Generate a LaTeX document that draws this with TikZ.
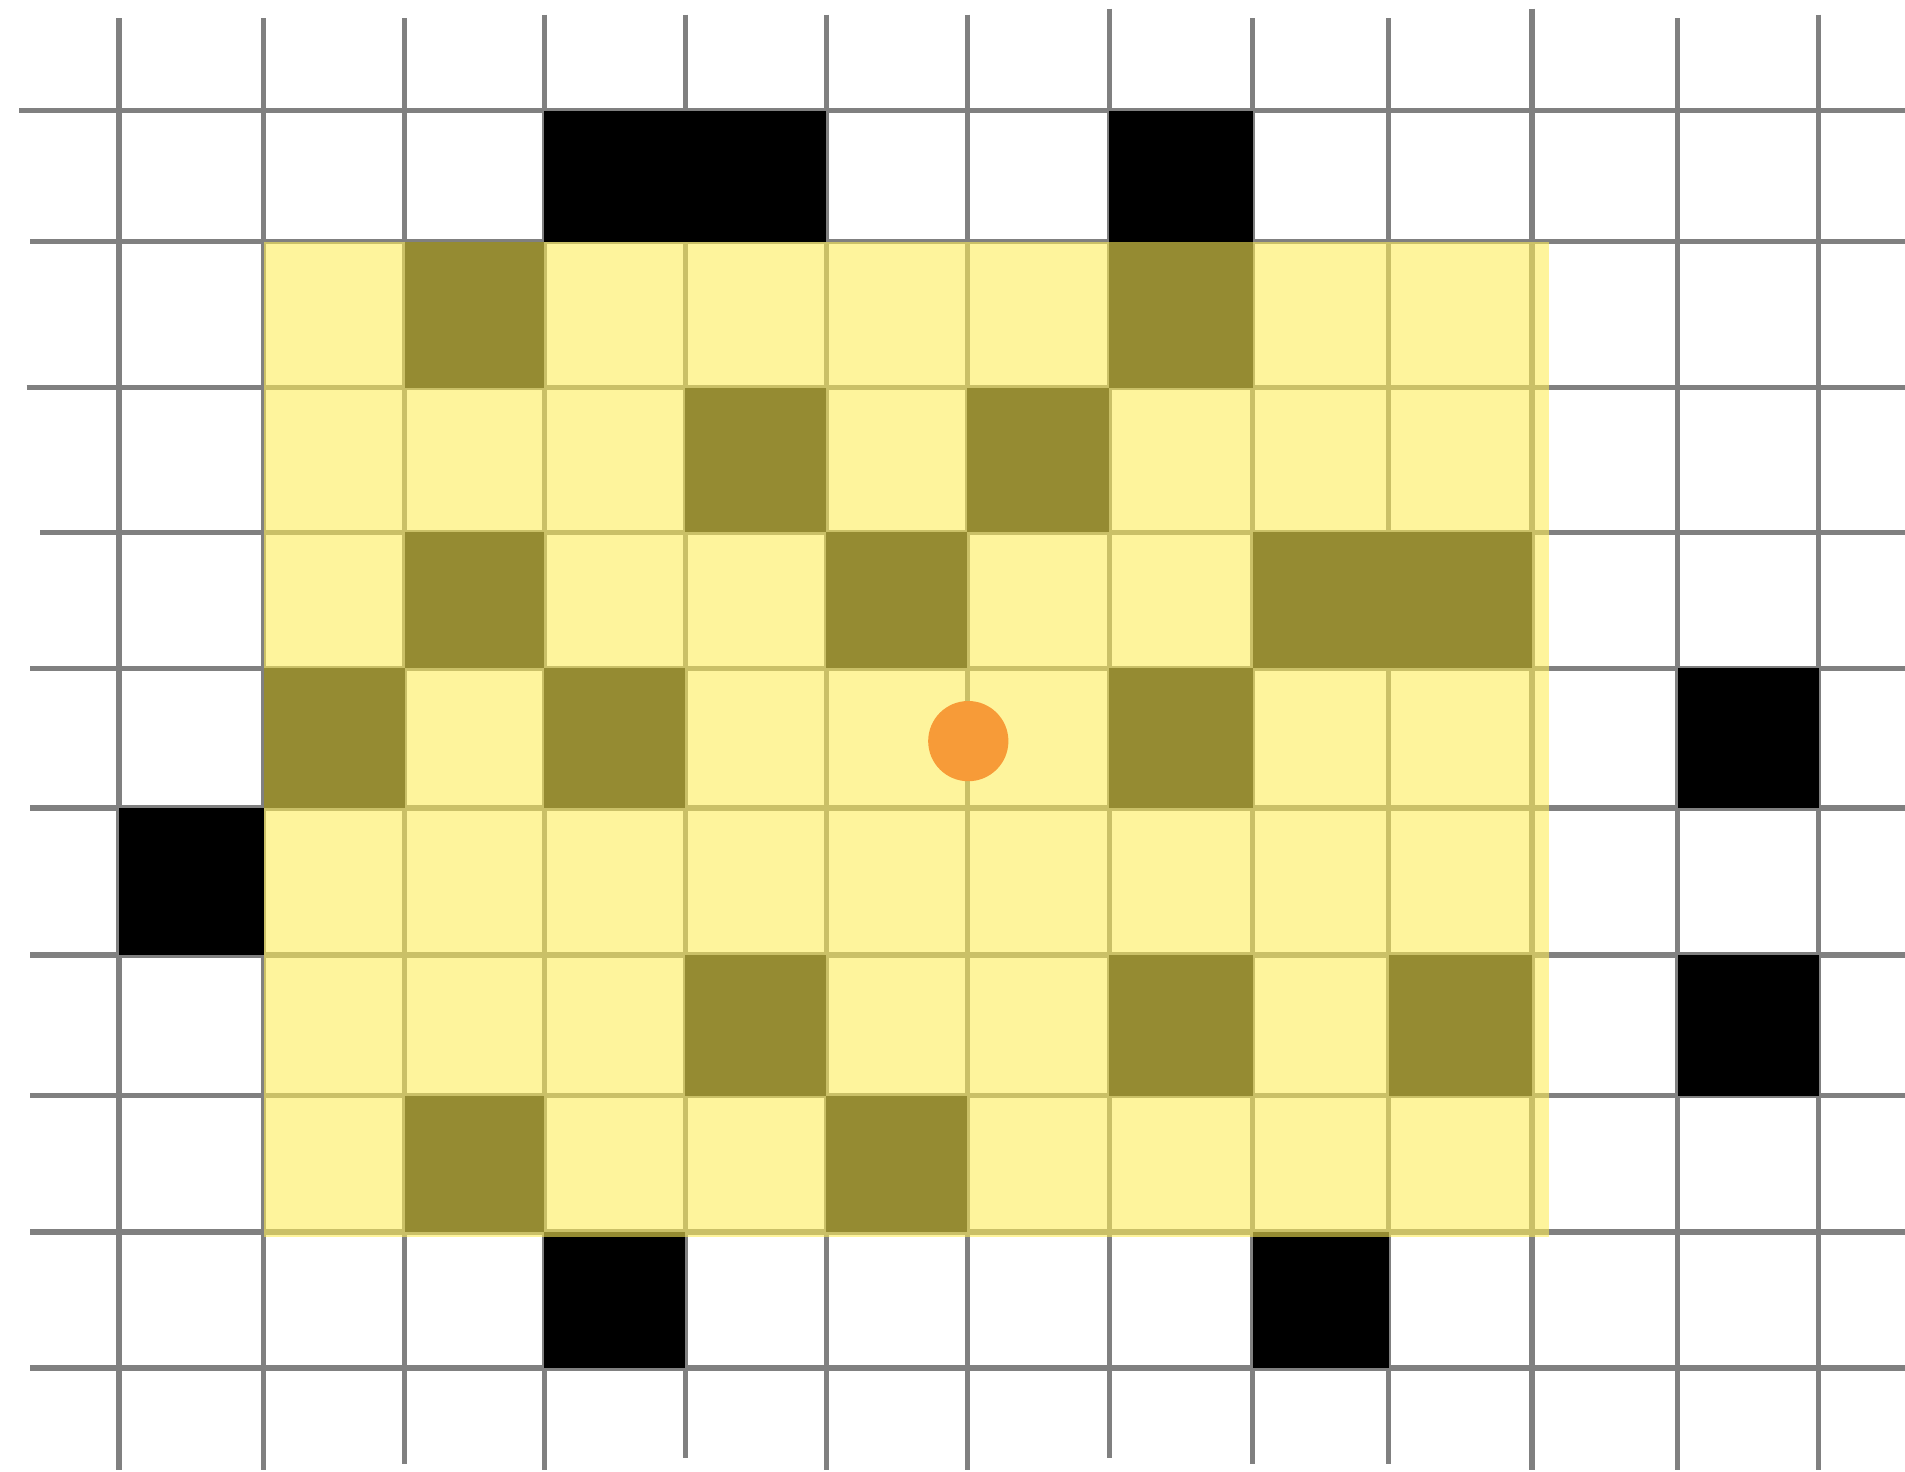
\documentclass[tikz,border=0pt]{standalone}
\usepackage{xcolor}

\definecolor{gridgray}{RGB}{128,128,128}
\definecolor{zoneyellow}{RGB}{254,237,86}
\definecolor{dotorange}{RGB}{247,155,56}

\begin{document}
\begin{tikzpicture}[
    x=0.01cm, y=-0.01cm,
    grid line/.style = {gridgray, line width=1.2pt},
    wall cell/.style = {fill=black},
    zone/.style = {fill=zoneyellow, fill opacity=0.59},
    robot/.style = {circle, fill=dotorange, inner sep=0pt, minimum size=0.66cm}
]

% Lienzo
\useasboundingbox (0,0) rectangle (1568,1211);

% Posiciones de las líneas de la cuadrícula
\def\xlines{{98,217,333,448,564,680,796,913,1031,1143,1261,1381,1497}}
\def\ylines{{91,199,319,438,550,665,786,902,1014,1126}}

% --- CUADRÍCULA ---
\foreach \x/\top/\bot in {98/15/1210, 217/15/1210, 333/15/1205, 448/12/1210,
    564/12/1200, 680/12/1210, 796/12/1210, 913/7/1200, 1031/15/1205,
    1143/15/1205, 1261/7/1210, 1381/15/1210, 1497/12/1210} {
    \draw[grid line] (\x,\top) -- (\x,\bot);
}
\foreach \y/\lft in {91/16, 199/25, 319/22, 438/33, 550/25, 665/25,
    786/25, 902/25, 1014/25, 1126/25} {
    \draw[grid line] (\lft,\y) -- (1568,\y);
}

% --- CELDAS OCUPADAS (columna/fila) ---
\foreach \c/\r in {3/0, 4/0, 7/0,
    2/1, 7/1,
    4/2, 6/2,
    2/3, 5/3, 8/3, 9/3,
    1/4, 3/4, 7/4, 11/4,
    0/5,
    4/6, 7/6, 9/6, 11/6,
    2/7, 5/7,
    3/8, 8/8} {
    \pgfmathsetmacro\xa{\xlines[\c]}
    \pgfmathsetmacro\xb{\xlines[\c+1]}
    \pgfmathsetmacro\ya{\ylines[\r]}
    \pgfmathsetmacro\yb{\ylines[\r+1]}
    \fill[wall cell] (\xa,\ya) rectangle (\xb,\yb);
}

% --- ZONA AMARILLA ---
\fill[zone] (217,199) rectangle (1275,1018);

% --- ROBOT ---
\node[robot] (bot) at (797,610) {};

\end{tikzpicture}
\end{document}
